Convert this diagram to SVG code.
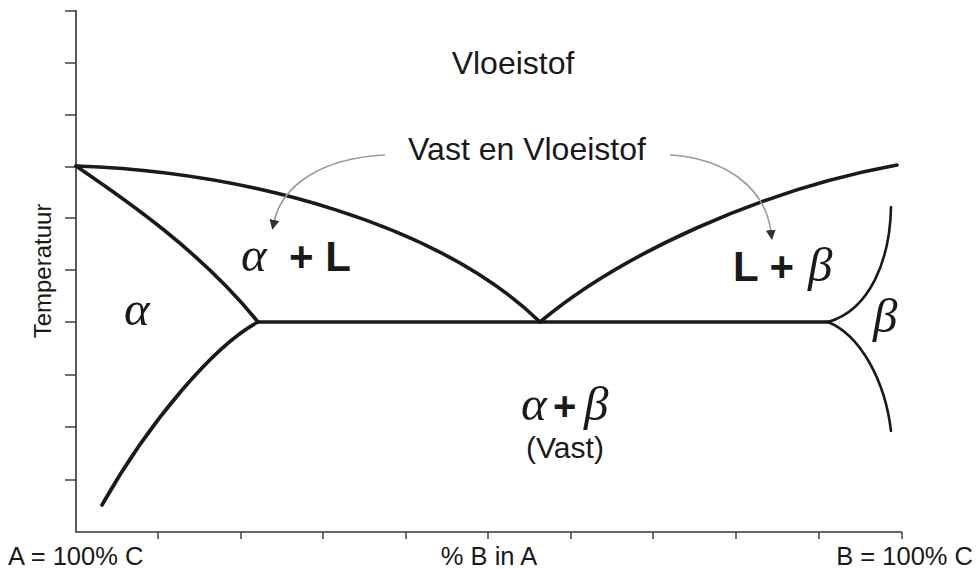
<svg xmlns="http://www.w3.org/2000/svg" width="979" height="569" viewBox="0 0 979 569">
<defs>
<style>
.axis{stroke:#333;stroke-width:1.6;fill:none}
.tick{stroke:#333;stroke-width:1.4}
.thick{stroke:#1a1a1a;stroke-width:3.6;fill:none;stroke-linecap:round;stroke-linejoin:round}
.thin{stroke:#1a1a1a;stroke-width:2.6;fill:none;stroke-linecap:round}
.arrow{stroke:#9a9a9a;stroke-width:1.6;fill:none}
.sans{font-family:"Liberation Sans",Arial,sans-serif;fill:#1a1a1a}
.greek{font-family:"Liberation Serif","Times New Roman",serif;font-style:italic;fill:#1a1a1a}
</style>
<marker id="ah" viewBox="0 0 10 10" refX="2" refY="5" markerWidth="10" markerHeight="10" markerUnits="userSpaceOnUse" orient="auto">
<path d="M0,0 L10,5 L0,10 z" fill="#333"/>
</marker>
</defs>
<rect width="979" height="569" fill="#fff"/>
<g id="axes">
<path class="axis" d="M76,10 V532 H902"/>
<g class="tick">
<line x1="65" y1="11" x2="76" y2="11"/>
<line x1="65" y1="63" x2="76" y2="63"/>
<line x1="65" y1="115" x2="76" y2="115"/>
<line x1="65" y1="167" x2="76" y2="167"/>
<line x1="65" y1="218" x2="76" y2="218"/>
<line x1="65" y1="270" x2="76" y2="270"/>
<line x1="65" y1="322" x2="76" y2="322"/>
<line x1="65" y1="375" x2="76" y2="375"/>
<line x1="65" y1="427" x2="76" y2="427"/>
<line x1="65" y1="480" x2="76" y2="480"/>
<line x1="158" y1="532" x2="158" y2="539"/>
<line x1="241" y1="532" x2="241" y2="539"/>
<line x1="323" y1="532" x2="323" y2="539"/>
<line x1="406" y1="532" x2="406" y2="539"/>
<line x1="488" y1="532" x2="488" y2="539"/>
<line x1="571" y1="532" x2="571" y2="539"/>
<line x1="653" y1="532" x2="653" y2="539"/>
<line x1="736" y1="532" x2="736" y2="539"/>
<line x1="819" y1="532" x2="819" y2="539"/>
<line x1="902" y1="532" x2="902" y2="539"/>
</g>
<text class="sans" x="8" y="565" font-size="25.5">A = 100% C</text>
<text class="sans" x="489" y="565" font-size="25.5" text-anchor="middle">% B in A</text>
<text class="sans" x="973" y="565" font-size="25.5" text-anchor="end">B = 100% C</text>
<text class="sans" font-size="24" text-anchor="middle" transform="translate(51,271) rotate(-90)">Temperatuur</text>
</g>
<g id="phase-lines">
<path id="liquidus-left" class="thick" d="M76,166 C250,172 440,225 540,322"/>
<path id="solidus-left" class="thick" d="M76,166 C120,196 200,250 258,322"/>
<path id="solvus-left" class="thick" d="M258,322 C215,345 150,420 102,505"/>
<path id="eutectic" class="thick" stroke-width="3.2" d="M258,322 H828"/>
<path id="liquidus-right" class="thick" d="M540,322 C620,255 760,190 897,165"/>
<path id="solidus-right" class="thin" d="M828,322 C870,310 890,260 891,207"/>
<path id="solvus-right" class="thin" d="M828,322 C860,335 885,380 891,431"/>
</g>
<g id="connectors">
<path class="arrow" d="M385,155 C322,158 282,185 274,222" marker-end="url(#ah)"/>
<path class="arrow" d="M670,155 C722,158 765,185 771,232" marker-end="url(#ah)"/>
</g>
<g id="labels">
<text id="vloeistof" class="sans" x="513" y="74" font-size="32" text-anchor="middle">Vloeistof</text>
<text id="vast-en-vloeistof" class="sans" x="527" y="160" font-size="32" text-anchor="middle">Vast en Vloeistof</text>
<g id="alpha-region"><text class="greek" x="124" y="325" font-size="49">α</text></g>
<g id="alpha-L">
<text class="greek" x="241" y="271" font-size="49">α</text>
<text class="sans" x="289" y="271" font-size="42" font-weight="bold">+ L</text>
</g>
<g id="L-beta">
<text class="sans" x="733" y="281" font-size="42" font-weight="bold">L +</text>
<text class="greek" x="808" y="281" font-size="49">β</text>
</g>
<g id="beta-region"><text class="greek" x="873" y="332" font-size="49">β</text></g>
<g id="alpha-beta">
<text class="greek" x="521" y="420" font-size="49">α</text>
<text class="sans" x="553" y="420" font-size="40" font-weight="bold">+</text>
<text class="greek" x="584" y="420" font-size="49">β</text>
<text class="sans" x="565" y="458" font-size="30" text-anchor="middle">(Vast)</text>
</g>
</g>
</svg>
